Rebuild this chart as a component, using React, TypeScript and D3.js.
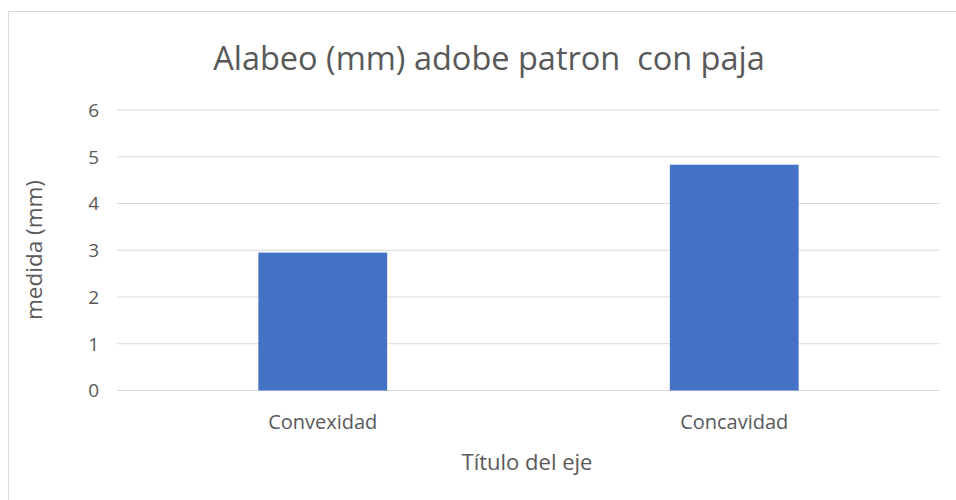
import React from "react";
import * as d3 from "d3";

const categories = ["Convexidad", "Concavidad"];
const values = [2.95, 4.83];
const yTicks = [0, 1, 2, 3, 4, 5, 6];
const title = "Alabeo (mm) adobe patron  con paja";
const yTitle = "medida (mm)";
const xTitle = "Título del eje";

export default function App() {
  const W = 956, H = 500;
  const left = 117, right = 940, top = 110, bottom = 390.5;
  const x = d3.scaleBand<string>().domain(categories).range([left, right]).paddingInner(0.687).paddingOuter(0.3435);
  const y = d3.scaleLinear().domain([0, 6]).range([bottom, top]);
  const font = "'Open Sans', sans-serif";
  return (
    <div style={{ position: "absolute", left: 0, top: 0 }}>
      <svg width={W} height={H} style={{ display: "block" }}>
        <rect x={0} y={0} width={W} height={H} fill="#fff" />
        <rect x={8.5} y={11.5} width={W + 20} height={H + 20} fill="none" stroke="#d9d9d9" strokeWidth={1} />
        <text x={489} y={70} textAnchor="middle" fontFamily={font} fontSize={32.5} fill="#595959" style={{ whiteSpace: "pre" }}>{title}</text>
        {yTicks.map((t) => (
          <g key={t}>
            <line x1={left} x2={right} y1={y(t)} y2={y(t)} stroke="#d9d9d9" strokeWidth={1.2} />
            <text x={99} y={y(t)} dy="0.36em" textAnchor="end" fontFamily={font} fontSize={19} fill="#595959">{t}</text>
          </g>
        ))}
        {categories.map((c, i) => (
          <g key={c}>
            <rect x={x(c)} y={y(values[i])} width={x.bandwidth()} height={bottom - y(values[i])} fill="#4472c4" />
            <text x={(x(c) ?? 0) + x.bandwidth() / 2} y={429} textAnchor="middle" fontFamily={font} fontSize={20} fill="#595959">{c}</text>
          </g>
        ))}
        <text transform={`translate(42,250) rotate(-90)`} textAnchor="middle" fontFamily={font} fontSize={22.5} fill="#595959">{yTitle}</text>
        <text x={527} y={470} textAnchor="middle" fontFamily={font} fontSize={22} fill="#595959">{xTitle}</text>
      </svg>
    </div>
  );
}
